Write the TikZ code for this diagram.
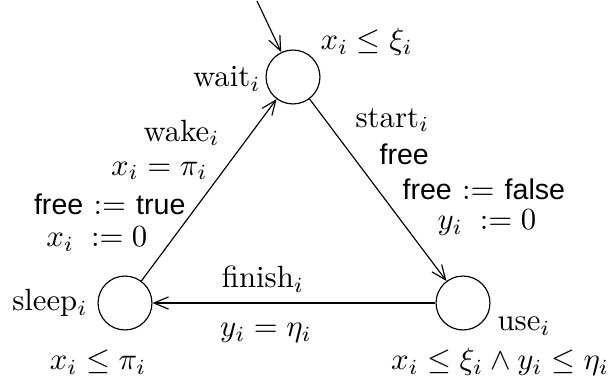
\RequirePackage{fix-cm}
\documentclass[tikz,border=0pt]{standalone}
\usepackage{fontspec}
\newfontfamily\helv[Scale=0.93]{Liberation Sans}
\usetikzlibrary{arrows.meta}
\begin{document}
\begin{tikzpicture}[x=0.345pt,y=-0.345pt,
  state/.style={circle,draw,line width=0.4pt,minimum size=18.6pt,inner sep=0pt},
  lbl/.style={inner sep=0pt,font=\fontsize{10.6}{12.7}\selectfont},
  edge/.style={line width=0.4pt,-{Straight Barb[length=5pt,width=4.2pt,line width=0.4pt]}}]
\useasboundingbox (0,0) rectangle (610,380);
\node[state] (wait) at (293,77) {};
\node[state] (sleep) at (125,303) {};
\node[state] (use) at (463,303) {};
\coordinate (init) at (257,1);
\draw[edge] (init) -- (wait);
\draw[edge] (sleep) -- (wait);
\draw[edge] (wait) -- (use);
\draw[edge] (use) -- (sleep);
% wait labels
\node[lbl,anchor=east] (lw) at (261,79) {wait$_i$};
\node[lbl,anchor=west] (iw) at (320,42) {$x_i\leq\xi_i$};
% wake edge labels
\node[lbl,anchor=east] (l1) at (220,133) {wake$_i$};
\node[lbl,anchor=east] (l2) at (208,171) {$x_i=\pi_i$};
\node[lbl,anchor=east] (l3) at (186,204) {{\helv free} $:=$ {\helv true}};
\node[lbl,anchor=east] (l4) at (148,239) {$x_i\;:=0$};
% start edge labels
\node[lbl,anchor=west] (r1) at (355,120) {start$_i$};
\node[lbl,anchor=west] (r2) at (379,154) {\helv free};
\node[lbl,anchor=west] (r3) at (402,189) {{\helv free} $:=$ {\helv false}};
\node[lbl,anchor=west] (r4) at (437,223) {$y_i\;:=0$};
% bottom
\node[lbl,anchor=east] (ls) at (88,303) {sleep$_i$};
\node[lbl] (f1) at (263,279) {finish$_i$};
\node[lbl] (f2) at (266,333) {$y_i=\eta_i$};
\node[lbl] (is) at (98,362) {$x_i\leq\pi_i$};
\node[lbl,anchor=west] (lu) at (497,326) {use$_i$};
\node[lbl] (iu) at (500,362) {$x_i\leq\xi_i\wedge y_i\leq\eta_i$};
\end{tikzpicture}
\end{document}
